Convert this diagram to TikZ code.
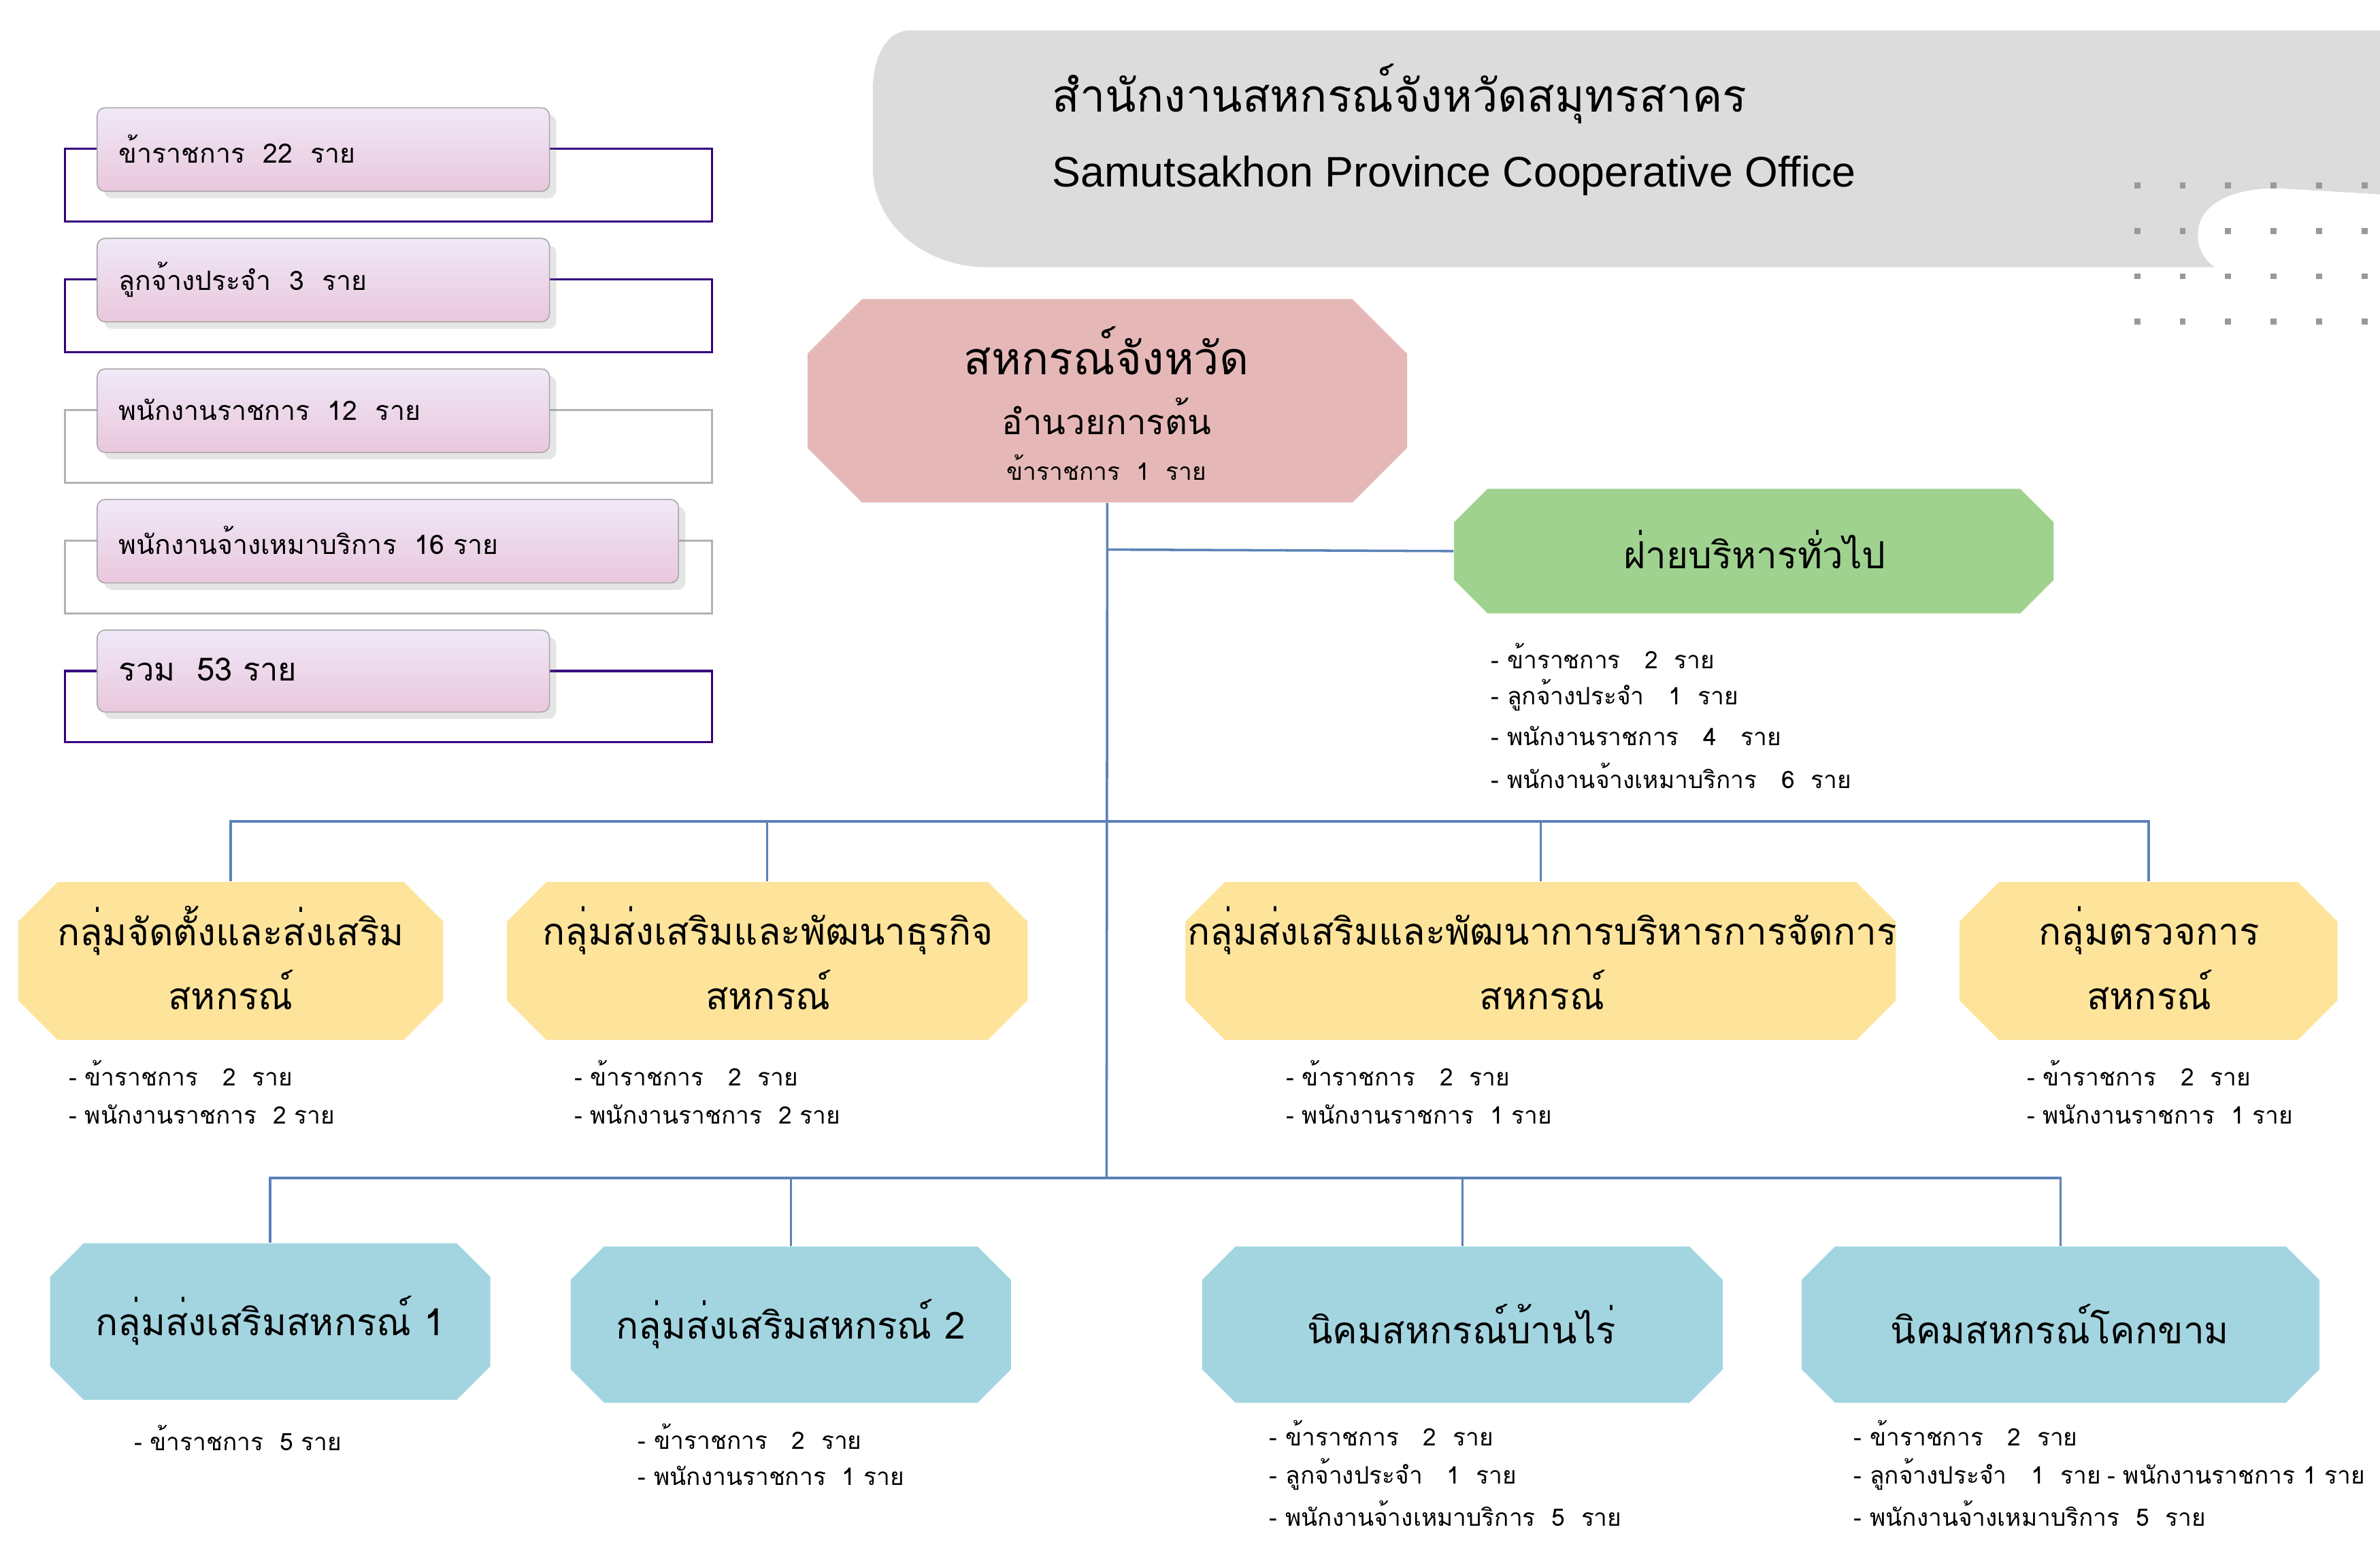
\documentclass[tikz,border=0pt]{standalone}
\usepackage{fontspec}
\usetikzlibrary{shadows}
\IfFontExistsTF{Loma.otf}{\setmainfont{Loma.otf}}{%
 \IfFontExistsTF{Waree.otf}{\setmainfont{Waree.otf}}{%
  \IfFontExistsTF{Garuda.otf}{\setmainfont{Garuda.otf}}{\setmainfont{Noto Sans}}}}
\newfontfamily\eng{Liberation Sans}
\definecolor{pinkc}{HTML}{E5B8B7}
\definecolor{greenc}{HTML}{A0D28F}
\definecolor{yelc}{HTML}{FDE49A}
\definecolor{bluec}{HTML}{A3D5E0}
\definecolor{linec}{HTML}{5B82B8}
\definecolor{hdr}{HTML}{DCDCDC}
\newcommand\ob[7]{%
 \fill[#7] (#2+#6,#3) -- (#4-#6,#3) -- (#4,#3+#6) -- (#4,#5-#6) -- (#4-#6,#5) -- (#2+#6,#5) -- (#2,#5-#6) -- (#2,#3+#6) -- cycle;
 \node[inner sep=0,minimum width={(#4-#2)*0.02cm},minimum height={(#5-#3)*0.02cm}] (#1) at ({(#2+#4)/2},{(#3+#5)/2}) {};}
\begin{document}
\begin{tikzpicture}[x=0.02cm,y=-0.02cm,
 conn/.style={linec,line width=0.9pt},
 lst/.style={anchor=west,font=\fontsize{9}{10}\selectfont,inner sep=0},
 ttl/.style={font=\fontsize{14}{16}\selectfont,align=center},
 lbox/.style={rounded corners=3pt,draw=gray!70,top color=purple!4!white!95!blue,bottom color=blue!18!purple!22!white,drop shadow={opacity=0.2}},
 lbl/.style={anchor=west,font=\fontsize{10}{12}\selectfont,inner sep=0}]
\useasboundingbox (0,0) rectangle (1568,1024);
\fill[white] (0,0) rectangle (1568,1024);
% header
\fill[hdr] (1568,20) -- (600,20) to[out=180,in=90] (575,60) -- (575,110) to[out=270,in=180] (650,176) -- (1568,176) -- cycle;
\fill[white] (1568,128) -- (1500,124) to[out=180,in=90] (1448,155) to[out=270,in=180] (1490,185) -- (1568,185) -- cycle;
\foreach \x in {1408,1438,1468,1498,1528,1558}
 \foreach \y in {122,152,182,212}
  \fill[gray!80] (\x-2,\y-2) rectangle (\x+2,\y+2);
\node[anchor=west,inner sep=0,font=\fontsize{17}{20}\selectfont] (t1) at (693,62) {สำนักงานสหกรณ์จังหวัดสมุทรสาคร};
\node[anchor=west,inner sep=0,font=\eng\fontsize{16}{19}\selectfont] (t2) at (693,116) {Samutsakhon Province Cooperative Office};
% left boxes
\draw[purple!40!blue!70!black,line width=0.8pt] (43,98) rectangle (469,146);
\draw[purple!40!blue!70!black,line width=0.8pt] (43,184) rectangle (469,232);
\draw[gray!60,line width=0.8pt] (43,270) rectangle (469,318);
\draw[gray!60,line width=0.8pt] (43,356) rectangle (469,404);
\draw[purple!40!blue!70!black,line width=0.8pt] (43,442) rectangle (469,489);
\path[lbox] (64,71) rectangle (362,126);
\path[lbox] (64,157) rectangle (362,212);
\path[lbox] (64,243) rectangle (362,298);
\path[lbox] (64,329) rectangle (447,384);
\path[lbox] (64,415) rectangle (362,469);
\node[lbl] (l1) at (78,98) {ข้าราชการ~~22~~ราย};
\node[lbl] (l2) at (78,184) {ลูกจ้างประจำ~~3~~ราย};
\node[lbl] (l3) at (78,270) {พนักงานราชการ~~12~~ราย};
\node[lbl] (l4) at (78,356) {พนักงานจ้างเหมาบริการ~~16 ราย};
\node[lbl,font=\fontsize{12}{14}\selectfont] (l5) at (78,441) {รวม~~53 ราย};
% boxes
\ob{dir}{532}{197}{927}{331}{36}{pinkc}
\ob{gen}{958}{322}{1353}{404}{22}{greenc}
\ob{y1}{12}{581}{292}{685}{26}{yelc}
\ob{y2}{334}{581}{677}{685}{26}{yelc}
\ob{y3}{781}{581}{1249}{685}{26}{yelc}
\ob{y4}{1291}{581}{1540}{685}{26}{yelc}
\ob{b1}{33}{819}{323}{922}{22}{bluec}
\ob{b2}{376}{821}{666}{924}{22}{bluec}
\ob{b3}{792}{821}{1135}{924}{22}{bluec}
\ob{b4}{1187}{821}{1528}{924}{22}{bluec}
% connectors
\coordinate (j1) at (729,362);
\coordinate (j2) at (729,541);
\coordinate (j3) at (729,776);
\draw[conn] (dir.south) -- (j3);
\draw[conn] (j1) -- (gen.west);
\draw[conn] (y1.north) |- (j2) -| (y4.north);
\draw[conn] (y2.north) -- (y2.north|-j2);
\draw[conn] (y3.north) -- (y3.north|-j2);
\draw[conn] (b1.north) |- (j3) -| (b4.north);
\draw[conn] (b2.north) -- (b2.north|-j3);
\draw[conn] (b3.north) -- (b3.north|-j3);
% texts
\node[font=\fontsize{17}{20}\selectfont] (d1) at (729,231) {สหกรณ์จังหวัด};
\node[font=\fontsize{13}{15}\selectfont] (d2) at (729,274) {อำนวยการต้น};
\node[font=\fontsize{9}{10}\selectfont] (d3) at (729,308) {ข้าราชการ~~1~~ราย};
\node[ttl] (gt) at (1156,362) {ฝ่ายบริหารทั่วไป};
\node[lst] at (982,432) {- ข้าราชการ~~~2~~ราย};
\node[lst] at (982,458) {- ลูกจ้างประจำ~~~1~~ราย};
\node[lst] at (982,485) {- พนักงานราชการ~~~4~~~ราย};
\node[lst] at (982,511) {- พนักงานจ้างเหมาบริการ~~~6~~ราย};
\node[ttl] at (152,613) {กลุ่มจัดตั้งและส่งเสริม}; \node[ttl] at (152,652) {สหกรณ์};
\node[ttl] at (506,613) {กลุ่มส่งเสริมและพัฒนาธุรกิจ}; \node[ttl] at (506,652) {สหกรณ์};
\node[ttl] at (1016,613) {กลุ่มส่งเสริมและพัฒนาการบริหารการจัดการ}; \node[ttl] at (1016,652) {สหกรณ์};
\node[ttl] at (1416,613) {กลุ่มตรวจการ}; \node[ttl] at (1416,652) {สหกรณ์};
\node[lst] at (45,707) {- ข้าราชการ~~~2~~ราย};
\node[lst] at (45,734) {- พนักงานราชการ~~2 ราย};
\node[lst] at (378,707) {- ข้าราชการ~~~2~~ราย};
\node[lst] at (378,734) {- พนักงานราชการ~~2 ราย};
\node[lst] at (847,707) {- ข้าราชการ~~~2~~ราย};
\node[lst] at (847,734) {- พนักงานราชการ~~1 ราย};
\node[lst] at (1335,707) {- ข้าราชการ~~~2~~ราย};
\node[lst] at (1335,734) {- พนักงานราชการ~~1 ราย};
\node[ttl] at (178,870) {กลุ่มส่งเสริมสหกรณ์ 1};
\node[ttl] at (521,872) {กลุ่มส่งเสริมสหกรณ์ 2};
\node[ttl] at (963,872) {นิคมสหกรณ์บ้านไร่};
\node[ttl] at (1357,872) {นิคมสหกรณ์โคกขาม};
\node[lst] at (88,947) {- ข้าราชการ~~5 ราย};
\node[lst] at (420,946) {- ข้าราชการ~~~2~~ราย};
\node[lst] at (420,972) {- พนักงานราชการ~~1 ราย};
\node[lst] at (836,944) {- ข้าราชการ~~~2~~ราย};
\node[lst] at (836,971) {- ลูกจ้างประจำ~~~1~~ราย};
\node[lst] at (836,997) {- พนักงานจ้างเหมาบริการ~~5~~ราย};
\node[lst] at (1221,944) {- ข้าราชการ~~~2~~ราย};
\node[lst] at (1221,971) {- ลูกจ้างประจำ~~~1~~ราย};
\node[lst] at (1221,997) {- พนักงานจ้างเหมาบริการ~~5~~ราย};
\node[lst] at (1388,971) {- พนักงานราชการ 1 ราย};
\end{tikzpicture}
\end{document}
